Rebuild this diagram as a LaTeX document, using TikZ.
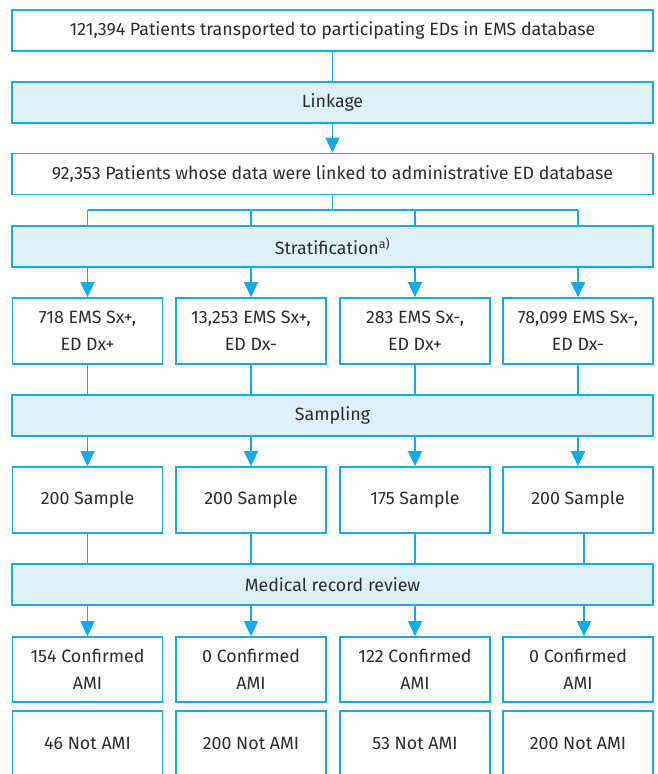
\documentclass[tikz,border=0pt]{standalone}
\usepackage{fontspec}
\setmainfont{Fira Sans}
\usetikzlibrary{arrows.meta}
\definecolor{edge}{RGB}{20,172,230}
\definecolor{band}{RGB}{222,241,250}
\definecolor{ink}{RGB}{45,45,45}
\tikzset{
  box/.style={draw=edge, line width=1.6pt, fill=white, text=ink, align=center,
    inner sep=0pt, font=\fontsize{17.8}{27}\selectfont},
  wide/.style={box, minimum width=641pt, minimum height=41pt},
  stage/.style={wide, fill=band},
  cell/.style={box, minimum width=150pt, minimum height=66pt},
  link/.style={draw=edge, line width=1.6pt},
  flow/.style={link, -{Triangle[length=15pt,width=14pt]}}
}
\begin{document}
\begin{tikzpicture}[x=1pt,y=-1pt]
\useasboundingbox (0,0) rectangle (657,774);
\begin{scope}
\clip (0,0) rectangle (657,774);

% full-width boxes
\node[wide]  (src)   at (332.5,30.5)  {121,394 Patients transported to participating EDs in EMS database};
\node[stage] (lnk)   at (332.5,102.5) {Linkage};
\node[wide]  (lnked) at (332.5,174)   {92,353 Patients whose data were linked to administrative ED database};
\node[stage] (strat) at (332.5,246.5) {Stratification\textsuperscript{a)}};
\node[stage] (samp)  at (332.5,415.5) {Sampling};
\node[stage] (rev)   at (332.5,584.5) {Medical record review};

% strata
\node[cell] (g1) at (87.5,331) {718 EMS Sx+,\\ED Dx+};
\node[cell] (g2) at (251,331)  {13,253 EMS Sx+,\\ED Dx-};
\node[cell] (g3) at (415,331)  {283 EMS Sx-,\\ED Dx+};
\node[cell] (g4) at (578,331)  {78,099 EMS Sx-,\\ED Dx-};

% samples
\node[cell] (s1) at (87.5,500) {200 Sample};
\node[cell] (s2) at (251,500)  {200 Sample};
\node[cell] (s3) at (415,500)  {175 Sample};
\node[cell] (s4) at (578,500)  {200 Sample};

% review outcomes
\node[cell, minimum height=65pt] (c1) at (87.5,669.5) {154 Confirmed\\AMI};
\node[cell, minimum height=65pt] (c2) at (251,669.5)  {0 Confirmed\\AMI};
\node[cell, minimum height=65pt] (c3) at (415,669.5)  {122 Confirmed\\AMI};
\node[cell, minimum height=65pt] (c4) at (578,669.5)  {0 Confirmed\\AMI};

\node[cell, minimum height=65pt] (n1) at (87.5,743.5) {46 Not AMI};
\node[cell, minimum height=65pt] (n2) at (251,743.5)  {200 Not AMI};
\node[cell, minimum height=65pt] (n3) at (415,743.5)  {53 Not AMI};
\node[cell, minimum height=65pt] (n4) at (578,743.5)  {200 Not AMI};

% top chain
\draw[link] (src.south) -- (lnk.north);
\draw[flow] (lnk.south) -- (lnked.north);

% split bracket into the strata
\coordinate (fork) at (332.5,210);
\draw[link] (lnked.south) -- (fork);
\draw[link] (fork -| g1.north) -- (fork -| g4.north);
\foreach \g in {g1,g2,g3,g4}
  \draw[link] (fork -| \g.north) -- (strat.north -| \g.north);

% strata and samples
\foreach \g in {g1,g2,g3,g4} {
  \draw[flow] (strat.south -| \g.north) -- (\g.north);
  \draw[link] (\g.south) -- (samp.north -| \g.south);
}
\foreach \s in {s1,s2,s3,s4}
  \draw[flow] (samp.south -| \s.north) -- (\s.north);

% samples into review
\coordinate (r4) at ([xshift=6pt]s4.south);
\foreach \s in {s1,s2,s3}
  \draw[link] (\s.south) -- (rev.north -| \s.south);
\draw[link] (r4) -- (rev.north -| r4);
\foreach \c in {c1,c2,c3}
  \draw[flow] (rev.south -| \c.north) -- (\c.north);
\draw[flow] (rev.south -| r4) -- (c4.north -| r4);
\end{scope}
\end{tikzpicture}
\end{document}
